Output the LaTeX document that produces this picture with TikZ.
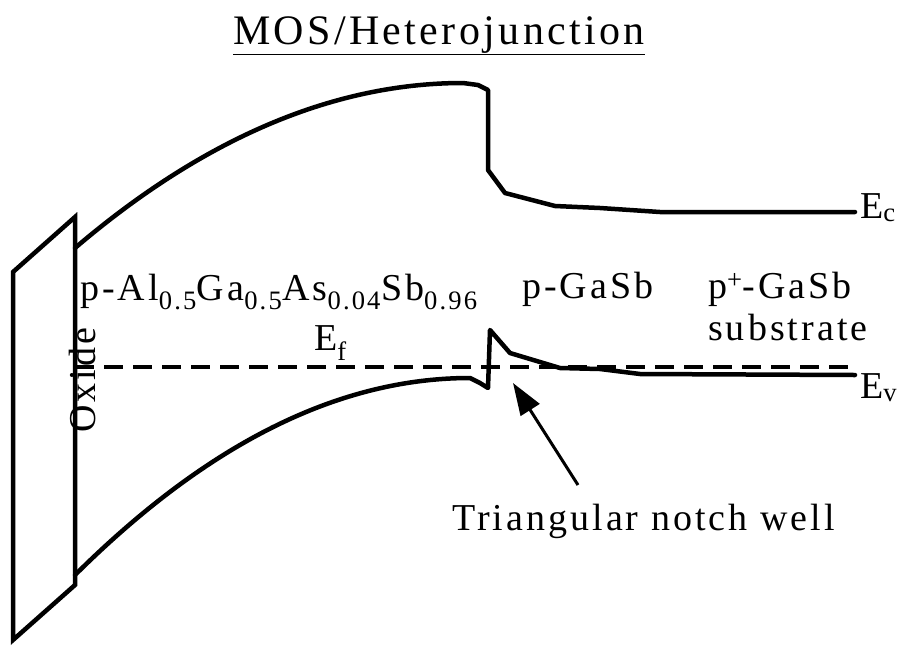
\documentclass[tikz,border=0pt]{standalone}
\usepackage{fontspec}
\setmainfont{Liberation Serif}
\usetikzlibrary{arrows.meta}
\tikzset{
  band/.style={line width=4.5pt, line join=round, line cap=round},
  oxidebox/.style={line width=4.5pt, line join=miter},
  fermi/.style={line width=3.5pt, dash pattern=on 19pt off 10pt},
  lbl/.style={inner sep=0pt, font=\fontsize{38}{44}\selectfont\addfontfeature{LetterSpace=8}},
  titlelbl/.style={inner sep=0pt, font=\fontsize{42}{48}\selectfont\addfontfeature{LetterSpace=8}},
  pointer/.style={line width=3pt, -{Triangle[length=32pt,width=22pt]}}
}
\begin{document}
\begin{tikzpicture}[x=1pt,y=-1pt]
\useasboundingbox (0,0) rectangle (918,646);
% oxide
\draw[oxidebox] (13,640) -- (13,272) -- (75,217) -- (75,585) -- cycle;
% conduction band
\draw[band] (75,248) .. controls (204,138) and (334,83) .. (463,83)
  -- (478,85) -- (488,90) -- (488,170) -- (505,193) -- (555,206)
  -- (600,208) -- (660,212) -- (855,212);
% valence band
\draw[band] (75,575) .. controls (207,444) and (338,378) .. (470,378)
  -- (480,383) -- (488,388) -- (490,330) -- (510,353) -- (540,362)
  -- (560,368) -- (600,369) -- (640,374) -- (855,375);
% Fermi level
\draw[fermi] (75,367) -- (855,367);
% labels
\node[titlelbl, anchor=base] (title) at (439,44) {\underline{MOS/Heterojunction}};
\node[lbl, anchor=base west] (ec) at (860,218) {E\textsubscript{c}};
\node[lbl, anchor=base west] (ev) at (860,398) {E\textsubscript{v}};
\node[lbl, anchor=base west] (alg) at (80,300) {p-Al\textsubscript{0.5}Ga\textsubscript{0.5}As\textsubscript{0.04}Sb\textsubscript{0.96}};
\node[lbl, anchor=base west] (ef) at (314,350) {E\textsubscript{f}};
\node[lbl, anchor=base west] (pg) at (522,298) {p-GaSb};
\node[lbl, anchor=base west] (pp) at (708,298) {p\textsuperscript{+}-GaSb};
\node[lbl, anchor=base west] (sub) at (708,340) {substrate};
\node[lbl, anchor=base, rotate=90] (ox) at (95,380) {Oxide};
\node[lbl, anchor=base west] (tri) at (452,530) {Triangular notch well};
\coordinate (tip) at (513,383);
\coordinate (tail) at (578,485);
\draw[pointer] (tail) -- (tip);
\end{tikzpicture}
\end{document}
